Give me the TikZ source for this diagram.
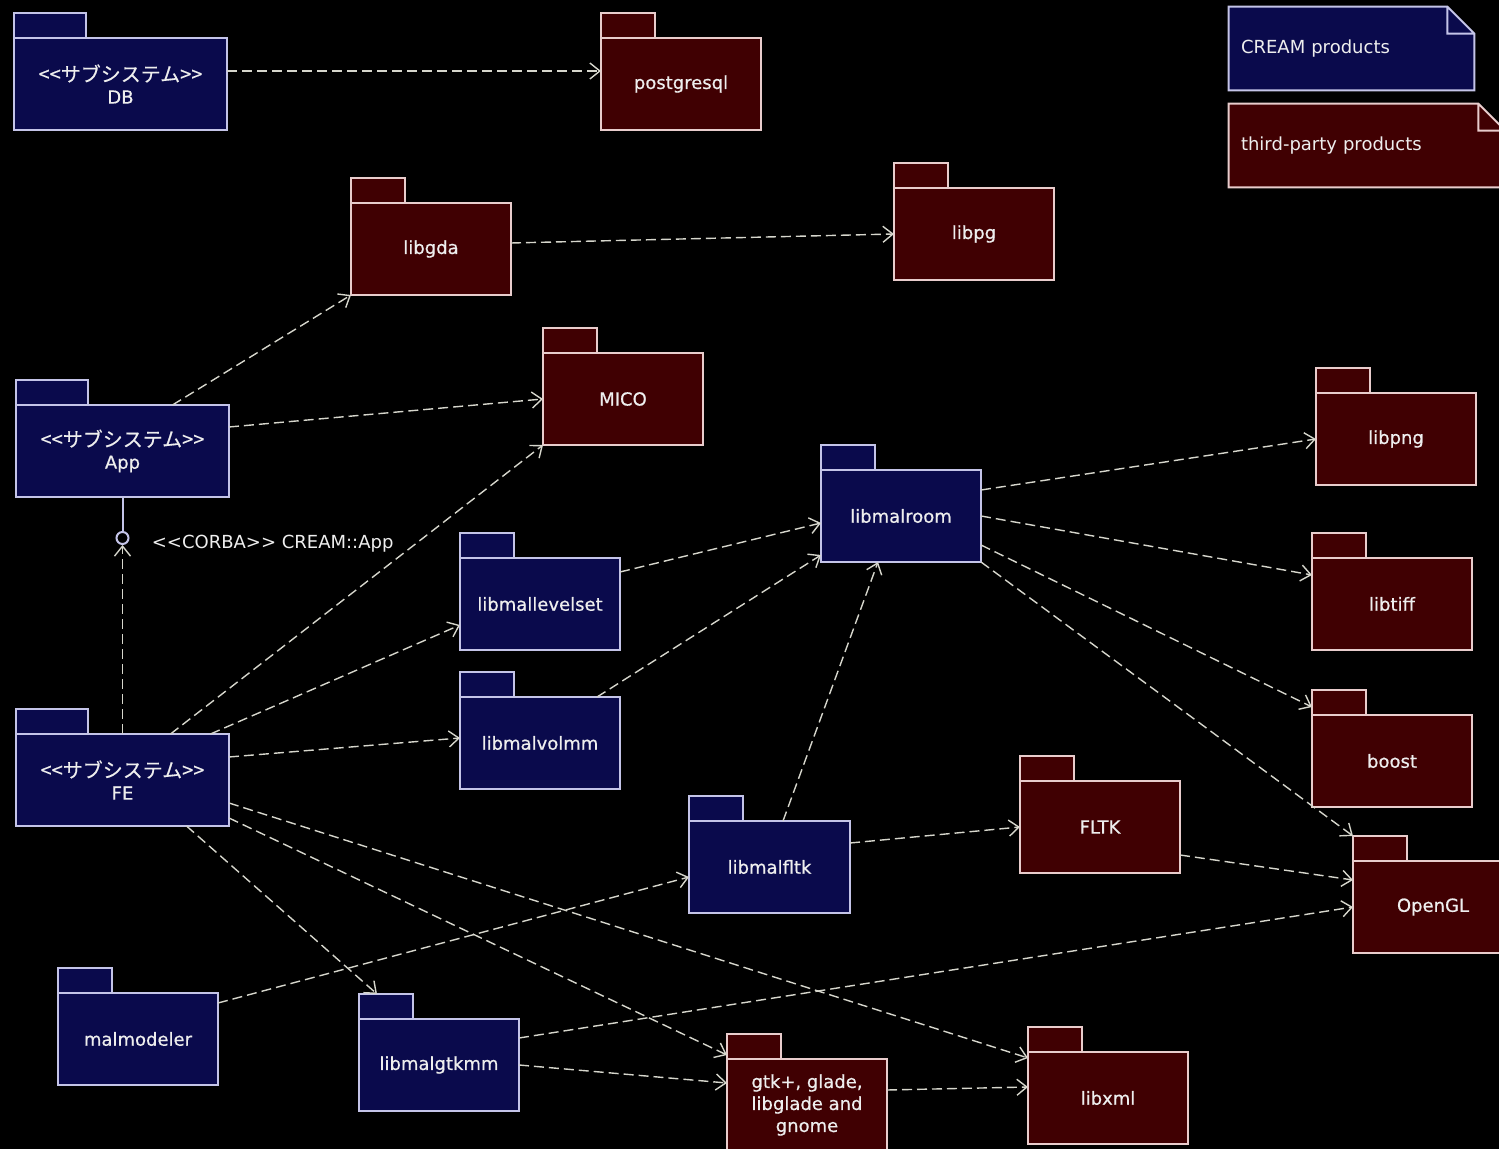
\documentclass[tikz,border=0pt]{standalone}
\usepackage{fontspec}
\setmainfont{DejaVu Sans}
\newfontfamily\pkgfont[FakeBold=0.6]{DejaVu Sans}
\newfontfamily\jpfont[FakeBold=0.4]{Noto Sans CJK JP}
\usetikzlibrary{arrows.meta,positioning}

\definecolor{creamfill}{RGB}{10,10,76}
\definecolor{creamline}{RGB}{196,196,232}
\definecolor{thirdfill}{RGB}{64,0,2}
\definecolor{thirdline}{RGB}{232,204,204}
\definecolor{pkgtext}{RGB}{238,238,238}
\definecolor{depline}{RGB}{214,214,204}

\newcommand{\subsys}{{\jpfont\fontsize{10}{11.5}\selectfont <{}<サブシステム>{}>}}

\tikzset{
  pkg/.style={draw, line width=1pt, inner sep=2pt, outer sep=0pt,
    minimum width=80pt, minimum height=46pt, align=center,
    text=pkgtext, font=\pkgfont\fontsize{9}{11}\selectfont},
  cream/.style={pkg, fill=creamfill, draw=creamline},
  third/.style={pkg, fill=thirdfill, draw=thirdline},
  wide/.style={minimum width=106.5pt},
  tab/.style={draw, line width=1pt, inner sep=0pt, outer sep=0pt,
    minimum width=27pt, minimum height=12.5pt, anchor=south west},
  creamtab/.style={tab, fill=creamfill, draw=creamline},
  thirdtab/.style={tab, fill=thirdfill, draw=thirdline},
  note/.style={inner xsep=6pt, inner ysep=0pt, minimum height=41.5pt,
    align=left, text=pkgtext, font=\fontsize{9}{11}\selectfont},
  dep/.style={depline, line width=0.7pt, dash pattern=on 5pt off 2.5pt,
    -{Straight Barb[length=5pt,width=8pt]}},
}

\begin{document}
\begin{tikzpicture}[x=0.5pt, y=-0.5pt]
  \useasboundingbox (0,0) rectangle (1499,1149);
  \fill[black] (0,0) rectangle (1499,1149);

  % legend
  \node[note, fill=creamfill, text width=110.5pt] (legcream) at (1351.5,48.5) {CREAM products};
  \fill[black] ([xshift=-13.5pt]legcream.north east) -- (legcream.north east) -- ([yshift=-13.5pt]legcream.north east) -- cycle;
  \draw[creamline, line width=1pt] (legcream.south west) -- (legcream.north west) -- ([xshift=-13.5pt]legcream.north east)
    -- ([yshift=-13.5pt]legcream.north east) -- (legcream.south east) -- cycle
    ([xshift=-13.5pt]legcream.north east) |- ([yshift=-13.5pt]legcream.north east);
  \node[note, fill=thirdfill, text width=126pt] (legthird) at (1367,145.5) {third-party products};
  \fill[black] ([xshift=-13.5pt]legthird.north east) -- (legthird.north east) -- ([yshift=-13.5pt]legthird.north east) -- cycle;
  \draw[thirdline, line width=1pt] (legthird.south west) -- (legthird.north west) -- ([xshift=-13.5pt]legthird.north east)
    -- ([yshift=-13.5pt]legthird.north east) -- (legthird.south east) -- cycle
    ([xshift=-13.5pt]legthird.north east) |- ([yshift=-13.5pt]legthird.north east);

  % subsystems
  \node[cream, wide] (db) at (120.5,84) {\subsys\\DB};
  \node[creamtab, minimum width=36pt] (dbtab) at (db.north west) {};
  \node[cream, wide] (app) at (122.5,451) {\subsys\\App};
  \node[creamtab, minimum width=36pt] (apptab) at (app.north west) {};
  \node[cream, wide] (fe) at (122.5,780) {\subsys\\FE};
  \node[creamtab, minimum width=36pt] (fetab) at (fe.north west) {};

  % CREAM libraries
  \node[cream] (malroom) at (901,516) {libmalroom};
  \node[creamtab] (malroomtab) at (malroom.north west) {};
  \node[cream] (lvl) at (540,604) {libmallevelset};
  \node[creamtab] (lvltab) at (lvl.north west) {};
  \node[cream] (volmm) at (540,743) {libmalvolmm};
  \node[creamtab] (volmmtab) at (volmm.north west) {};
  \node[cream, minimum width=80.5pt] (mfltk) at (769.5,867) {libmalfltk};
  \node[creamtab] (mfltktab) at (mfltk.north west) {};
  \node[cream] (malmod) at (138,1039) {malmodeler};
  \node[creamtab] (malmodtab) at (malmod.north west) {};
  \node[cream] (gtkmm) at (439,1065) {libmalgtkmm};
  \node[creamtab] (gtkmmtab) at (gtkmm.north west) {};

  % third-party
  \node[third] (pgsql) at (681,84) {postgresql};
  \node[thirdtab] (pgsqltab) at (pgsql.north west) {};
  \node[third] (gda) at (431,249) {libgda};
  \node[thirdtab] (gdatab) at (gda.north west) {};
  \node[third] (pg) at (974,234) {libpg};
  \node[thirdtab] (pgtab) at (pg.north west) {};
  \node[third] (mico) at (623,399) {MICO};
  \node[thirdtab] (micotab) at (mico.north west) {};
  \node[third] (png) at (1396,439) {libpng};
  \node[thirdtab] (pngtab) at (png.north west) {};
  \node[third] (tiff) at (1392,604) {libtiff};
  \node[thirdtab] (tifftab) at (tiff.north west) {};
  \node[third] (boost) at (1392,761) {boost};
  \node[thirdtab] (boosttab) at (boost.north west) {};
  \node[third] (fltk) at (1100,827) {FLTK};
  \node[thirdtab] (fltktab) at (fltk.north west) {};
  \node[third] (opengl) at (1433,907) {OpenGL};
  \node[thirdtab] (opengltab) at (opengl.north west) {};
  \node[third] (gtk) at (807,1105) {gtk+, glade,\\libglade and\\gnome};
  \node[thirdtab] (gtktab) at (gtk.north west) {};
  \node[third] (xml) at (1108,1098) {libxml};
  \node[thirdtab] (xmltab) at (xml.north west) {};

  % interface
  \node[circle, draw=creamline, line width=1pt, fill=black, minimum size=6pt, inner sep=0pt] (iface) at (122.5,538) {};
  \node[right=11pt of iface, yshift=-3pt, inner sep=0pt, text=pkgtext, font=\fontsize{9}{11}\selectfont] (corba) {<{}<CORBA>{}> CREAM::App};
  \draw[creamline, line width=1pt] (app.south) -- (iface.north);
  \draw[dep] (fe.north) -- (iface.south);

  % dependencies
  \draw[dep] ([yshift=6.5pt]db.east) -- ([yshift=6.5pt]pgsql.west);
  \draw[dep] ([yshift=3pt]gda.east) -- (pg.west);
  \draw[dep] ([xshift=25pt]app.north) -- (gda.south west);
  \draw[dep] ([yshift=12pt]app.east) -- (mico.west);
  \draw[dep] ([xshift=24pt]fe.north) -- (mico.south west);
  \draw[dep] ([xshift=44pt]fe.north) -- ([yshift=-10.5pt]lvl.west);
  \draw[dep] ([yshift=11.5pt]fe.east) -- ([yshift=2.5pt]volmm.west);
  \draw[dep] ([yshift=-11.5pt]fe.east) -- ([yshift=-3pt]xml.north west);
  \draw[dep] ([yshift=-19pt]fe.east) -- ([yshift=2pt]gtk.north west);
  \draw[dep] ([xshift=32pt]fe.south) -- ([xshift=-4.5pt]gtkmmtab.north);
  \draw[dep] ([yshift=16pt]lvl.east) -- ([yshift=-3.5pt]malroom.west);
  \draw[dep] ([xshift=28.5pt]volmm.north) -- ([yshift=3.5pt]malroom.south west);
  \draw[dep] ([xshift=6.75pt]mfltk.north) -- ([xshift=-11.5pt]malroom.south);
  \draw[dep] ([yshift=12pt]mfltk.east) -- (fltk.west);
  \draw[dep] ([yshift=13pt]malroom.east) -- (png.west);
  \draw[dep] (malroom.east) -- ([yshift=14.5pt]tiff.west);
  \draw[dep] ([yshift=-14.5pt]malroom.east) -- ([yshift=4pt]boost.north west);
  \draw[dep] (malroom.south east) -- (opengltab.north west);
  \draw[dep] ([yshift=-14pt]fltk.east) -- ([yshift=13.5pt]opengl.west);
  \draw[dep] ([yshift=13.5pt]gtkmm.east) -- (opengl.west);
  \draw[dep] (gtkmm.east) -- ([yshift=11pt]gtk.west);
  \draw[dep] ([yshift=18pt]malmod.east) -- ([yshift=-5pt]mfltk.west);
  \draw[dep] ([yshift=7.5pt]gtk.east) -- ([yshift=5.5pt]xml.west);
\end{tikzpicture}
\end{document}
